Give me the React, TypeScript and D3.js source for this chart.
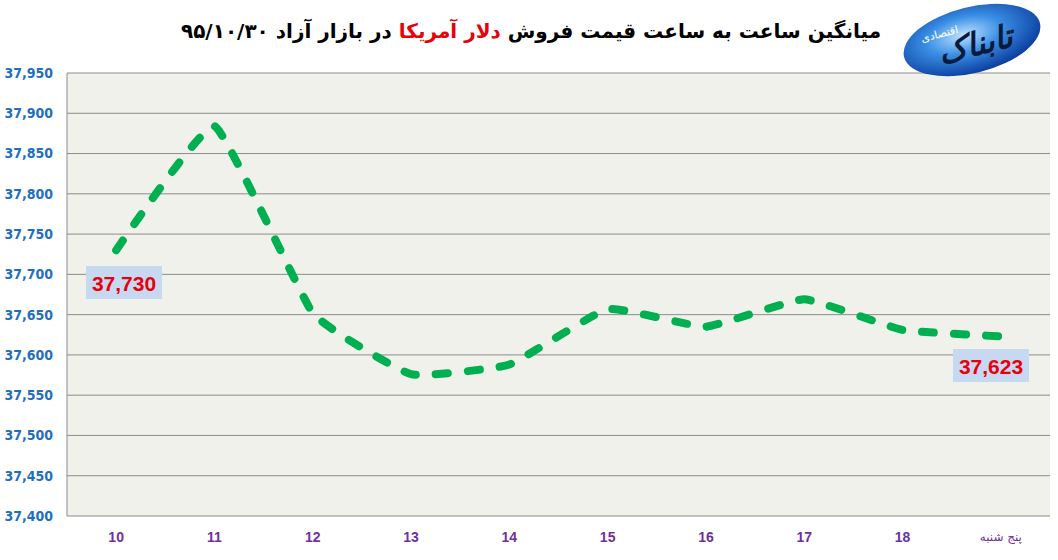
import React from "react";
import * as d3 from "d3";

// hours of the day (last one is the day name)
const hours = ["10", "11", "12", "13", "14", "15", "16", "17", "18", "پنج شنبه"];
// average sell price of US dollar, free market
const prices = [37730, 37884, 37652, 37576, 37588, 37657, 37635, 37669, 37631, 37623];
// which points carry a value label
const labelled = [0, 9];

const yMin = 37400;
const yMax = 37950;
const yStep = 50;

const W = 1058;
const H = 560;
const margin = { top: 73, right: 8, bottom: 44, left: 67 };

const fmt = d3.format(",");

const App: React.FC = () => {
  const x = d3
    .scaleBand<string>()
    .domain(hours)
    .range([margin.left, W - margin.right]);
  const y = d3
    .scaleLinear()
    .domain([yMin, yMax])
    .range([H - margin.bottom, margin.top]);

  const cx = (i: number) => (x(hours[i]) as number) + x.bandwidth() / 2;

  const line = d3
    .line<number>()
    .x((_, i) => cx(i))
    .y((d) => y(d))
    .curve(d3.curveCardinal.tension(0.65));

  const yTicks = d3.range(yMin, yMax + 1, yStep);

  return (
    <svg
      width={W}
      height={H}
      style={{ position: "absolute", left: 0, top: 0, background: "#fff" }}
    >
      <defs>
        <radialGradient id="logoGrad" cx="0.45" cy="0.4" r="0.6">
          <stop offset="0" stopColor="#bfe3ff" />
          <stop offset="0.45" stopColor="#3b8fe6" />
          <stop offset="1" stopColor="#0b3f9e" />
        </radialGradient>
      </defs>

      {/* plot background */}
      <rect
        x={margin.left}
        y={margin.top}
        width={W - margin.left - margin.right}
        height={H - margin.top - margin.bottom}
        fill="#f0f1ea"
      />

      {/* grid */}
      {yTicks.map((t) => (
        <line
          key={t}
          x1={margin.left}
          x2={W - margin.right}
          y1={y(t)}
          y2={y(t)}
          stroke="#8c8c8c"
          strokeWidth={1}
        />
      ))}
      <line
        x1={margin.left}
        x2={margin.left}
        y1={margin.top}
        y2={H - margin.bottom}
        stroke="#8c8c8c"
      />

      {/* y labels */}
      {yTicks.map((t) => (
        <text
          key={t}
          x={53}
          y={y(t)}
          dy="0.35em"
          textAnchor="end"
          fontFamily="DejaVu Sans Condensed, DejaVu Sans"
          fontWeight="bold"
          fontSize={14}
          fill="#1f6fc0"
        >
          {fmt(t)}
        </text>
      ))}

      {/* x labels */}
      {hours.map((h, i) => {
        const last = i === hours.length - 1;
        return (
          <text
            key={h}
            x={cx(i)}
            y={537}
            dy="0.35em"
            textAnchor="middle"
            fontFamily={last ? "DejaVu Sans" : "Liberation Sans Narrow, Liberation Sans"}
            fontWeight={last ? "normal" : "bold"}
            fontSize={last ? 12 : 14}
            fill="#7030a0"
            direction={last ? "rtl" : "ltr"}
          >
            {h}
          </text>
        );
      })}

      {/* line */}
      <path
        d={line(prices) as string}
        fill="none"
        stroke="#00b050"
        strokeWidth={8}
        strokeDasharray="12 20"
        strokeLinecap="round"
        strokeLinejoin="round"
      />

      {/* value labels */}
      {labelled.map((i) => {
        const bx = i === 0 ? 86 : 953;
        const by = i === 0 ? 266 : 349;
        return (
          <g key={i}>
            <rect x={bx} y={by} width={76} height={33} fill="#c6d9f1" />
            <text
              x={bx + 38}
              y={by + 17}
              dy="0.36em"
              textAnchor="middle"
              fontFamily="Liberation Sans"
              fontWeight="bold"
              fontSize={21}
              fill="#e8000b"
            >
              {fmt(prices[i])}
            </text>
          </g>
        );
      })}

      {/* title */}
      <text
        x={531}
        y={38}
        textAnchor="middle"
        direction="rtl"
        fontFamily="DejaVu Sans"
        fontWeight="bold"
        fontSize={20}
        fill="#000"
      >
        <tspan>میانگین ساعت به ساعت قیمت فروش </tspan>
        <tspan fill="#e8000b">دلار آمریکا</tspan>
        <tspan> در بازار آزاد ۹۵/۱۰/۳۰</tspan>
      </text>

      {/* logo */}
      <g transform="translate(972,40) rotate(-14)">
        <ellipse cx={0} cy={0} rx={70} ry={33} fill="url(#logoGrad)" />
        <text
          x={2}
          y={16}
          textAnchor="middle"
          fontFamily="DejaVu Sans"
          fontWeight="bold"
          fontStyle="italic"
          fontSize={32}
          fill="#0a1a3a"
          direction="rtl"
        >
          تابناک
        </text>
        <text
          x={-30}
          y={-10}
          textAnchor="middle"
          fontFamily="DejaVu Sans"
          fontSize={11}
          fill="#ffffff"
          direction="rtl"
        >
          اقتصادی
        </text>
      </g>
    </svg>
  );
};

export default App;
